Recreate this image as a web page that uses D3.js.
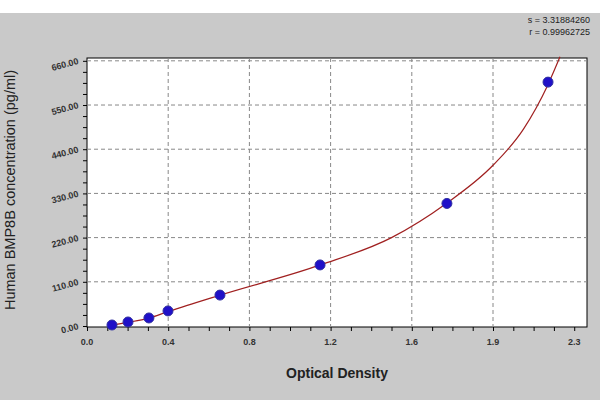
<!DOCTYPE html><html><head><script src="https://d3js.org/d3.v7.min.js"></script>
<style>body{margin:0;background:#c9c9c9}</style></head><body><svg width="600" height="400"></svg>
<script>
const odValues=[0.123,0.202,0.305,0.399,0.655,1.148,1.773,2.271];
const concValues=[2.5,10,20,37.5,77,152,305,607];
const curveOD=[0.12,0.2,0.3,0.4,0.65,1.15,1.5,1.77,2.0,2.15,2.27,2.33];
const curveConc=[2,9,19,36,76,152,220,305,400,490,600,670];
const xTicks=[0,0.4,0.8,1.2,1.6,2.0,2.4];
const xTickLabels=["0.0","0.4","0.8","1.2","1.6","1.9","2.3"];
const yTicks=[0,110,220,330,440,550,660];
const yTickLabels=["0.00","110.00","220.00","330.00","440.00","550.00","660.00"];
const svg=d3.select("svg");
const L=87,R=587,T=58,B=327;
const x=d3.scaleLinear().domain([0,2.463]).range([L,R]);
const y=d3.scaleLinear().domain([0,672]).range([B-1,T-2]);
svg.append("rect").attr("x",0).attr("y",0).attr("width",600).attr("height",400).attr("fill","#c9c9c9");
svg.append("rect").attr("x",0).attr("y",0).attr("width",600).attr("height",13).attr("fill","#fff");
svg.append("rect").attr("x",L).attr("y",T).attr("width",R-L).attr("height",B-T).attr("fill","#fff").attr("stroke","#000");
const g=svg.append("g");
xTicks.slice(1,-1).forEach(t=>g.append("line").attr("x1",x(t)).attr("x2",x(t)).attr("y1",T).attr("y2",B).attr("stroke","#888").attr("stroke-dasharray","4,3"));
yTicks.slice(1).forEach(t=>g.append("line").attr("x1",L).attr("x2",R).attr("y1",y(t)).attr("y2",y(t)).attr("stroke","#888").attr("stroke-dasharray","4,3"));
const xa=svg.append("g").attr("transform",`translate(0,${B})`).call(d3.axisBottom(x).tickValues(d3.range(0,2.45,0.1)).tickSize(4).tickFormat(""));
xa.select(".domain").remove();
xTicks.forEach((t,i)=>svg.append("text").attr("x",x(t)).attr("y",B+18).attr("text-anchor","middle").attr("font-family","Arial").attr("font-size",9).attr("font-weight","bold").attr("fill","#333").text(xTickLabels[i]));
const ya=svg.append("g").attr("transform",`translate(${L},0)`).call(d3.axisLeft(y).tickValues(d3.range(0,661,27.5)).tickSize(4).tickFormat(""));
ya.select(".domain").remove();
yTicks.forEach((t,i)=>svg.append("text").attr("transform",`translate(${L-8},${y(t)+3}) rotate(-15)`).attr("text-anchor","end").attr("font-family","Arial").attr("font-size",9).attr("font-weight","bold").attr("fill","#333").text(yTickLabels[i]));
const line=d3.line().x(d=>x(d[0])).y(d=>y(d[1])).curve(d3.curveMonotoneX);
svg.append("path").attr("d",line(curveOD.map((v,i)=>[v,curveConc[i]]))).attr("fill","none").attr("stroke","#a02020").attr("stroke-width",1.2);
svg.selectAll("circle").data(odValues).join("circle").attr("cx",d=>x(d)).attr("cy",(d,i)=>y(concValues[i])).attr("r",5).attr("fill","#2010c8").attr("stroke","#3030a0");
svg.append("text").attr("x",337).attr("y",378).attr("text-anchor","middle").attr("font-family","Arial").attr("font-size",14).attr("font-weight","bold").attr("fill","#222").text("Optical Density");
svg.append("text").attr("transform","translate(15,190) rotate(-90)").attr("text-anchor","middle").attr("font-family","Arial").attr("font-size",14.5).attr("fill","#222").text("Human BMP8B concentration (pg/ml)");
svg.append("text").attr("x",590).attr("y",23).attr("text-anchor","end").attr("font-family","Arial").attr("font-size",9).attr("fill","#222").text("s = 3.31884260");
svg.append("text").attr("x",590).attr("y",35).attr("text-anchor","end").attr("font-family","Arial").attr("font-size",9).attr("fill","#222").text("r = 0.99962725");
</script></body></html>
